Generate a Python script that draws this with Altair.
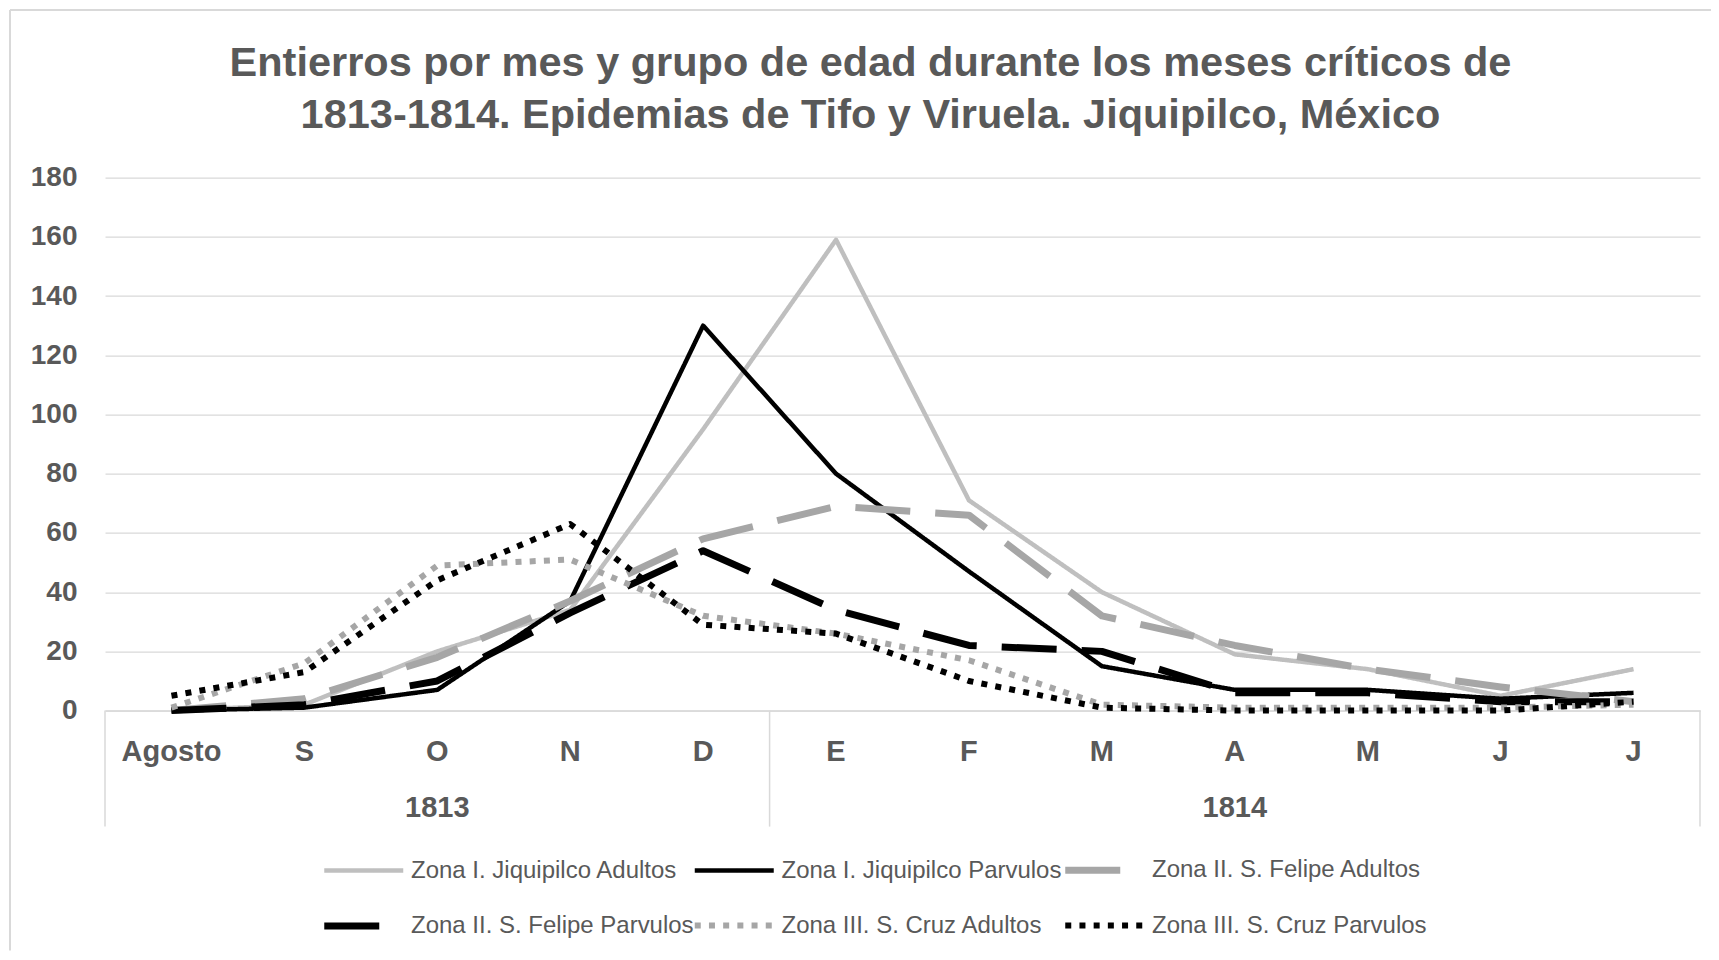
import json
import altair as alt
import pandas as pd

# ---------------- data ----------------
months = ["Agosto", "S", "O", "N", "D", "E", "F", "M", "A", "M", "J", "J"]
month_years = [1813, 1813, 1813, 1813, 1813, 1814, 1814, 1814, 1814, 1814, 1814, 1814]

series_names = [
    "Zona I. Jiquipilco Adultos",
    "Zona I. Jiquipilco Parvulos",
    "Zona II. S. Felipe Adultos",
    "Zona II. S. Felipe Parvulos",
    "Zona III. S. Cruz Adultos",
    "Zona III. S. Cruz Parvulos",
]
zona1_adultos = [0, 2, 20, 34, 95, 159, 71, 40, 19, 14, 5, 14]
zona1_parvulos = [0, 1, 7, 37, 130, 80, 47, 15, 7, 7, 4, 6]
zona2_adultos = [0, 4, 18, 37, 58, 69, 66, 32, 22, 14, 8, 3]
zona2_parvulos = [0, 2, 10, 33, 54, 34, 22, 20, 6, 6, 3, 3]
zona3_adultos = [1, 16, 49, 51, 32, 26, 17, 2, 1, 1, 1, 2]
zona3_parvulos = [5, 13, 44, 63, 29, 26, 10, 1, 0, 0, 0, 3]
series_values = [zona1_adultos, zona1_parvulos, zona2_adultos,
                 zona2_parvulos, zona3_adultos, zona3_parvulos]

y_ticks = [0, 20, 40, 60, 80, 100, 120, 140, 160, 180]

title_lines = [
    "Entierros por mes y grupo de edad durante los meses críticos de",
    "1813-1814. Epidemias de Tifo y Viruela. Jiquipilco, México",
]

# ---------------- styles ----------------
series_colors = ["#BFBFBF", "#000000", "#A6A6A6", "#000000", "#A6A6A6", "#000000"]
series_dashes = [[1, 0], [1, 0], [55, 25], [55, 25], [6, 8.2], [6, 8.2]]
series_widths = [4.5, 4.5, 7, 7, 6, 6]
TXT = "#595959"
GRID = "#D9D9D9"
FONT = "Liberation Sans"

W, H = 1595, 533

# ---------------- tables ----------------
rows = []
for name, vals in zip(series_names, series_values):
    for i, v in enumerate(vals):
        rows.append({"idx": i, "series": name, "value": v})
df = pd.DataFrame(rows)

year_list = sorted(set(month_years))
year_rows = []
start_rows = []
for yr in year_list:
    ids = [i for i, y in enumerate(month_years) if y == yr]
    year_rows.append({"year": str(yr), "idx": (ids[0] + ids[-1]) // 2})
    start_rows.append({"idx": ids[0]})
df_years = pd.DataFrame(year_rows)
df_starts = pd.DataFrame(start_rows)
df_end = pd.DataFrame({"idx": [len(months) - 1]})
df_one = pd.DataFrame({"k": [0]})

x_scale = alt.Scale(type="band", paddingInner=0, paddingOuter=0)

legend = alt.Legend(
    title=None, orient="none", legendX=255, legendY=669, columns=3,
    direction="horizontal",
    symbolType="M-3,0H1", symbolSize=1560, labelFont=FONT, labelFontSize=24,
    labelColor=TXT, labelOffset=4, columnPadding=-13.5, rowPadding=18,
    gridAlign="all", labelLimit=500,
)

lines = alt.Chart(df).mark_line(strokeCap="butt", strokeJoin="round").encode(
    x=alt.X("idx:O", scale=x_scale, title=None,
            axis=alt.Axis(labelExpr=f"{json.dumps(months)}[datum.value]",
                          labelAngle=0, labelAlign="center", labelBaseline="top",
                          labelFont=FONT, labelFontSize=29,
                          labelFontWeight="bold", labelColor=TXT, labelPadding=27,
                          ticks=False, domainColor=GRID, domainWidth=1.5, grid=False)),
    y=alt.Y("value:Q", scale=alt.Scale(domain=[0, 180], nice=False), title=None,
            axis=alt.Axis(values=y_ticks, grid=True, gridColor=GRID, gridWidth=1.3,
                          domain=False, ticks=False, labelFont=FONT, labelFontSize=28,
                          labelFontWeight="bold", labelColor=TXT, labelPadding=28)),
    color=alt.Color("series:N", scale=alt.Scale(domain=series_names, range=series_colors),
                    legend=legend, sort=series_names),
    strokeDash=alt.StrokeDash("series:N", scale=alt.Scale(domain=series_names, range=series_dashes),
                              legend=legend, sort=series_names),
    strokeWidth=alt.StrokeWidth("series:N", scale=alt.Scale(type="ordinal", domain=series_names,
                                                            range=series_widths),
                                legend=legend, sort=series_names),
    order=alt.Order("idx:Q"),
)

year_text = alt.Chart(df_years).mark_text(
    font=FONT, fontSize=29, fontWeight="bold", color=TXT, baseline="middle", align="center"
).encode(
    x=alt.X("idx:O", scale=x_scale),
    y=alt.value(H + 97),
    text="year:N",
)

title_text = alt.Chart(df_one).mark_text(
    font=FONT, fontSize=41.5, fontWeight="bold", color=TXT, baseline="middle",
    align="center", lineHeight=52,
).encode(
    x=alt.value(765.5), y=alt.value(-114), text=alt.value(title_lines),
)

div_start = alt.Chart(df_starts).mark_rule(color=GRID, strokeWidth=1.5).encode(
    x=alt.X("idx:O", scale=x_scale, bandPosition=0),
    y=alt.value(H), y2=alt.value(H + 116),
)
div_end = alt.Chart(df_end).mark_rule(color=GRID, strokeWidth=1.5).encode(
    x=alt.X("idx:O", scale=x_scale, bandPosition=1),
    y=alt.value(H), y2=alt.value(H + 116),
)

border_top = alt.Chart(df_one).mark_rule(color=GRID, strokeWidth=2).encode(
    x=alt.value(-95), x2=alt.value(W + 11), y=alt.value(-167.6)
)
border_left = alt.Chart(df_one).mark_rule(color=GRID, strokeWidth=2).encode(
    x=alt.value(-95), y=alt.value(-167.6), y2=alt.value(H + 240)
)

chart = alt.layer(
    border_top, border_left, div_start, div_end, lines, year_text, title_text
).properties(
    width=W, height=H,
    padding={"left": 97, "top": 169.6, "right": 11, "bottom": 240},
    autosize=alt.AutoSizeParams(type="none"),
).configure_view(stroke=None)

chart.save("out.html", embed_options={"renderer": "svg", "actions": False})
